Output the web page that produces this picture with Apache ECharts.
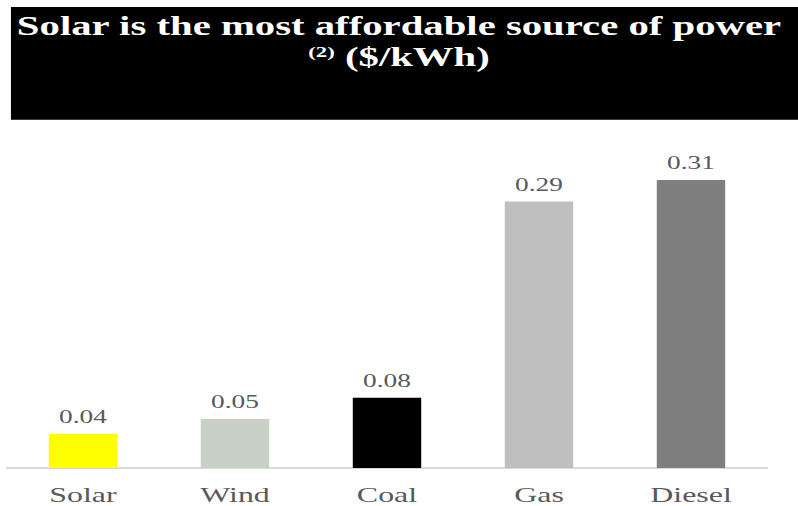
<!DOCTYPE html>
<html>
<head>
<meta charset="utf-8">
<script src="https://cdn.jsdelivr.net/npm/echarts@6/dist/echarts.min.js"></script>
<style>
  html, body { margin: 0; padding: 0; background: #fff; overflow: hidden; }
  #wrap { width: 798px; height: 506px; overflow: hidden; position: relative; }
  #chart { width: 525px; height: 506px; transform: scaleX(1.52); transform-origin: 0 0; position: absolute; left: 0; top: 0; }
</style>
</head>
<body>
<div id="wrap"><div id="chart"></div></div>
<script>
// Data
var categories = ['Solar', 'Wind', 'Coal', 'Gas', 'Diesel'];
var costs = [0.037, 0.053, 0.076, 0.288, 0.311];
var barColors = ['#ffff00', '#c9d0c5', '#000000', '#bfbfbf', '#7f7f7f'];
var titleLine1 = 'Solar is the most affordable source of power';
var titleNote = '(2)';
var titleUnit = '($/kWh)';

var chart = echarts.init(document.getElementById('chart'), null, { renderer: 'svg' });
var FONT = '"Liberation Serif", "Times New Roman", serif';

chart.setOption({
  animation: false,
  backgroundColor: '#ffffff',
  graphic: [
    { type: 'rect', z: 0, shape: { x: 7.2, y: 7, width: 520, height: 112 }, style: { fill: '#000000' } },
    { type: 'line', z: 1, shape: { x1: 7.2, y1: 119.5, x2: 525, y2: 119.5 }, style: { stroke: '#3c3c3c', lineWidth: 1 } }
  ],
  title: {
    left: 'center',
    top: 10,
    padding: 0,
    text: '{t|' + titleLine1 + '}\n{s|' + titleNote + '}{t| ' + titleUnit + '}',
    textStyle: {
      rich: {
        t: { fontFamily: FONT, fontWeight: 'bold', fontSize: 26.8, lineHeight: 31, color: '#ffffff' },
        s: { fontFamily: FONT, fontWeight: 'bold', fontSize: 15, lineHeight: 15, color: '#ffffff', verticalAlign: 'top', padding: [3, 0, 0, 0] }
      }
    }
  },
  grid: { left: 4.6, right: 20.4, top: 144, bottom: 38, containLabel: false },
  xAxis: {
    type: 'category',
    data: categories,
    axisLine: { lineStyle: { color: '#d9d9d9', width: 2 } },
    axisTick: { show: false },
    axisLabel: { fontFamily: FONT, fontSize: 21, color: '#595959', margin: 16 }
  },
  yAxis: {
    type: 'value',
    min: 0,
    max: 0.35,
    show: false,
    splitLine: { show: false }
  },
  series: [{
    type: 'bar',
    barWidth: '45%',
    data: costs.map(function (v, i) { return { value: v, itemStyle: { color: barColors[i] } }; }),
    label: {
      show: true,
      position: 'top',
      distance: 8,
      fontFamily: FONT,
      fontSize: 18,
      color: '#595959',
      formatter: function (p) { return p.value.toFixed(2); }
    }
  }]
});
</script>
</body>
</html>
